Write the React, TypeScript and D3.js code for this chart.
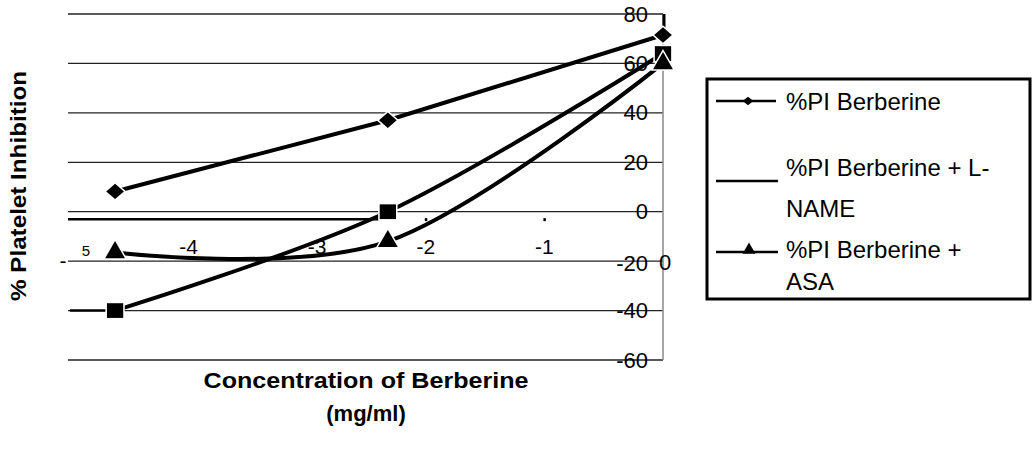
import React from 'react'
import * as d3 from 'd3'

// log concentration of berberine (x) and % platelet inhibition (y)
const xVals = [-4.62, -2.32, 0]
const berberine = [8.2, 37, 71.5]
const berberineLName = [-40, 0, 64]
const berberineAsa = [-16.5, -12, 60]

const yTicks = [80, 60, 40, 20, 0, -20, -40, -60]
const xTicks = [-4, -3, -2, -1]
const xAxisAt = -3

const W = 1034
const H = 454
const font = '"Liberation Sans", Arial, sans-serif'

const x = d3.scaleLinear().domain([-5, 0]).range([70, 663])
const y = d3.scaleLinear().domain([-60, 80]).range([360, 14])

const straight = d3.line<number>().x((d, i) => x(xVals[i])).y(d => y(d))
const smooth = d3.line<number>().x((d, i) => x(xVals[i])).y(d => y(d)).curve(d3.curveCardinal.tension(0))

// excel-ish diamond: a square turned 45deg, a little wider than tall
const diamond = d3.symbol().type(d3.symbolSquare).size(130)
const square = d3.symbol().type(d3.symbolSquare).size(240)
const triangle = d3.symbol().type(d3.symbolTriangle).size(170)

export default function App() {
    return (
        <svg width={W} height={H} style={{ position: 'absolute', left: 0, top: 0, background: 'white' }}>
            {/* gridlines */}
            {yTicks.map(t => (
                <line key={t} x1={x(-5) - 2} x2={x(0)} y1={y(t)} y2={y(t)} stroke="#222" strokeWidth={1.3} />
            ))}
            {/* y axis on the right */}
            <line x1={x(0)} x2={x(0)} y1={y(80)} y2={y(-60)} stroke="#888" strokeWidth={1.5} />
            <line x1={x(0) + 1} x2={x(0) + 1} y1={y(80)} y2={y(berberine[2])} stroke="#000" strokeWidth={3} />
            {yTicks.map(t => (
                <text key={t} x={648} y={y(t) + (t === -20 ? 2 : 0)} textAnchor="end" dominantBaseline="central"
                    fontFamily={font} fontSize={22} fill="#000">{t}</text>
            ))}

            {/* x axis */}
            <line x1={x(-5) - 2} x2={x(xVals[1]) - 9} y1={y(xAxisAt)} y2={y(xAxisAt)} stroke="#000" strokeWidth={2.5} />
            {[-2, -1].map(t => (
                <rect key={t} x={x(t) - 1} y={y(xAxisAt) - 1} width={2.5} height={3} fill="#000" />
            ))}
            {xTicks.map(t => (
                <text key={t} x={x(t) + (t === -3 ? 10 : 0)} y={254} textAnchor="middle" fontFamily={font} fontSize={21} fill="#000">{t}</text>
            ))}
            <text x={x(-5) - 7} y={268} textAnchor="middle" fontFamily={font} fontSize={21} fill="#000">-</text>
            <text x={x(-5) + 16} y={256} textAnchor="middle" fontFamily={font} fontSize={15} fill="#000">5</text>
            <text x={x(0) + 2} y={270} textAnchor="middle" fontFamily={font} fontSize={22} fill="#000">0</text>

            {/* L-NAME lead-in at the left edge */}
            <line x1={x(-5)} x2={x(xVals[0])} y1={y(berberineLName[0])} y2={y(berberineLName[0])} stroke="#000" strokeWidth={2.5} />

            {/* series */}
            <path d={straight(berberine) ?? ''} fill="none" stroke="#000" strokeWidth={4} />
            <path d={smooth(berberineLName) ?? ''} fill="none" stroke="#000" strokeWidth={4} />
            <path d={smooth(berberineAsa) ?? ''} fill="none" stroke="#000" strokeWidth={4} />

            {berberine.map((v, i) => (
                <g key={'d' + i} transform={`translate(${x(xVals[i])},${y(v)}) scale(1.1,0.95)`}>
                    <path d={diamond() ?? ''} transform="rotate(45)" fill="#000" stroke="#fff" strokeWidth={3} paintOrder="stroke" />
                </g>
            ))}
            {berberineLName.map((v, i) => (
                <path key={'s' + i} d={square() ?? ''} transform={`translate(${x(xVals[i])},${y(v)}) scale(1.05,0.95)`}
                    fill="#000" stroke="#fff" strokeWidth={3} paintOrder="stroke" />
            ))}
            {berberineAsa.map((v, i) => (
                <path key={'t' + i} d={triangle() ?? ''} transform={`translate(${x(xVals[i])},${y(v)})`}
                    fill="#000" stroke="#fff" strokeWidth={3} paintOrder="stroke" />
            ))}

            {/* axis titles */}
            <text transform="translate(26,186) rotate(-90)" textAnchor="middle" fontFamily={font} fontWeight="bold"
                fontSize={22} textLength={230} lengthAdjust="spacingAndGlyphs">% Platelet Inhibition</text>
            <text x={366} y={388} textAnchor="middle" fontFamily={font} fontWeight="bold" fontSize={22}
                textLength={325} lengthAdjust="spacingAndGlyphs">Concentration of Berberine</text>
            <text x={366} y={421} textAnchor="middle" fontFamily={font} fontWeight="bold" fontSize={22}>(mg/ml)</text>

            {/* legend */}
            <rect x={707} y={79} width={323} height={220} fill="none" stroke="#000" strokeWidth={3} />
            <line x1={716} x2={776} y1={101} y2={101} stroke="#000" strokeWidth={2.5} />
            <g transform="translate(748,101) scale(1.1,0.9)">
                <path d={diamond() ?? ''} transform="rotate(45) scale(0.6)" fill="#000" />
            </g>
            <text x={786} y={101} dominantBaseline="central" fontFamily={font} fontSize={24}>%PI Berberine</text>

            <line x1={716} x2={778} y1={181} y2={181} stroke="#000" strokeWidth={2.5} />
            <text x={786} y={167} dominantBaseline="central" fontFamily={font} fontSize={24}>%PI Berberine + L-</text>
            <text x={786} y={208} dominantBaseline="central" fontFamily={font} fontSize={24}>NAME</text>

            <line x1={716} x2={778} y1={252} y2={252} stroke="#000" strokeWidth={2.5} />
            <path d={triangle() ?? ''} transform="translate(749,250) scale(0.65)" fill="#000" />
            <text x={786} y={249} dominantBaseline="central" fontFamily={font} fontSize={24}>%PI Berberine +</text>
            <text x={786} y={281} dominantBaseline="central" fontFamily={font} fontSize={24}>ASA</text>
        </svg>
    )
}
